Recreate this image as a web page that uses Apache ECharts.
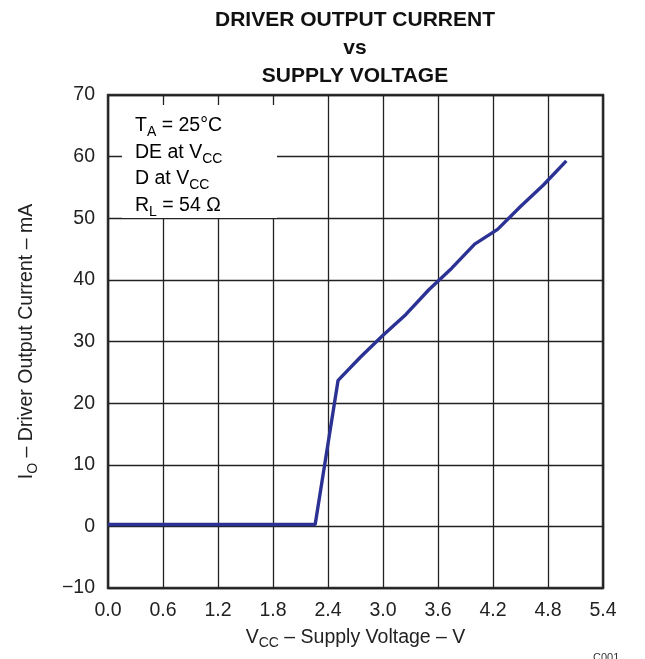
<!DOCTYPE html>
<html>
<head>
<meta charset="utf-8">
<script src="https://cdn.jsdelivr.net/npm/echarts@6/dist/echarts.min.js"></script>
<style>
  html, body { margin: 0; padding: 0; background: #fff; }
  #chart { width: 645px; height: 659px; }
</style>
</head>
<body>
<div id="chart"></div>
<script>
// supply voltage (V) vs driver output current (mA)
const vcc = [0, 2.26, 2.51, 2.75, 3.0, 3.25, 3.5, 3.75, 4.0, 4.25, 4.5, 4.75, 5.0];
const current = [0.3, 0.3, 23.7, 27.4, 31.0, 34.4, 38.4, 41.9, 45.8, 48.2, 51.9, 55.4, 59.3];
const xTicks = ['0.0', '0.6', '1.2', '1.8', '2.4', '3.0', '3.6', '4.2', '4.8', '5.4'];
const titleLines = ['DRIVER OUTPUT CURRENT', 'vs', 'SUPPLY VOLTAGE'];

const font = 'Liberation Sans, Arial, sans-serif';
const fs = 19.5;
const lh = 26.5;
const main = { fontFamily: font, fontSize: fs, color: '#222', lineHeight: lh, verticalAlign: 'middle' };
const sub = { fontFamily: font, fontSize: 14, color: '#222', lineHeight: 14, verticalAlign: 'bottom' };

let chart = echarts.init(document.getElementById('chart'));
const option = {
  animation: false,
  title: titleLines.map((t, i) => ({
    text: t,
    left: 355,
    textAlign: 'center',
    top: 10 + i * 28,
    padding: 0,
    textStyle: { fontFamily: font, fontSize: 21, fontWeight: 'bold', color: '#111', lineHeight: 21 }
  })),
  grid: {
    left: 108, right: 42, top: 95, bottom: 71,
    show: true, borderColor: '#333', borderWidth: 2.5, backgroundColor: 'transparent'
  },
  xAxis: {
    type: 'value',
    min: 0, max: 5.4, interval: 0.6,
    axisLine: { show: false },
    axisTick: { show: false },
    splitLine: { show: true, lineStyle: { color: '#222', width: 1.3 } },
    axisLabel: {
      margin: 13, fontFamily: font, fontSize: fs, color: '#222',
      formatter: v => xTicks[Math.round(v / 0.6)]
    },
    name: '{m|V}{s|CC}{m| – Supply Voltage – V}',
    nameLocation: 'middle',
    nameGap: 36,
    nameTextStyle: { rich: { m: main, s: sub } }
  },
  yAxis: {
    type: 'value',
    min: -10, max: 70, interval: 10,
    axisLine: { show: false },
    axisTick: { show: false },
    splitLine: { show: true, lineStyle: { color: '#222', width: 1.3 } },
    axisLabel: {
      margin: 13, fontFamily: font, fontSize: fs, color: '#222',
      formatter: v => v < 0 ? '\u2212' + Math.abs(v) : String(v)
    },
    name: '{m|I}{s|O}{m| – Driver Output Current – mA}',
    nameLocation: 'middle',
    nameGap: 68,
    nameTextStyle: { rich: { m: main, s: sub } }
  },
  graphic: [
    {
      type: 'rect', left: 122, top: 105, z: 50,
      shape: { width: 155, height: 113 },
      style: { fill: '#fff' }
    },
    {
      type: 'text', left: 135, top: 116, z: 51,
      style: {
        text: '{m|T}{s|A}{m| = 25°C}\n{m|DE at V}{s|CC}\n{m|D at V}{s|CC}\n{m|R}{s|L}{m| = 54 Ω}',
        rich: { m: main, s: sub }
      }
    },
    {
      type: 'text', left: 593, top: 652, z: 51,
      style: { text: 'C001', fontFamily: font, fontSize: 11, fill: '#333' }
    }
  ],
  series: [{
    type: 'line',
    data: vcc.map((v, i) => [v, current[i]]),
    showSymbol: false,
    lineStyle: { color: '#2b3293', width: 3.4 },
    z: 10
  }]
};
chart.setOption(option);
</script>
</body>
</html>
